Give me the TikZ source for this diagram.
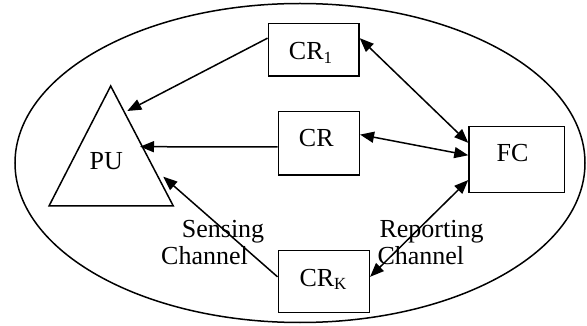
\documentclass[tikz,border=0pt]{standalone}
\usepackage{fontspec}
\setmainfont{Liberation Serif}
\usetikzlibrary{arrows.meta}
\tikzset{
  line/.style={line width=1.5pt, draw=black},
  box/.style={line, rectangle, inner sep=0pt, minimum width=#1},
  lbl/.style={inner sep=0pt, font=\fontsize{26}{28}\selectfont},
  arr/.style={line, -{Triangle[length=14pt,width=11pt]}},
  darr/.style={line, {Triangle[length=14pt,width=11pt]}-{Triangle[length=14pt,width=11pt]}},
}
\newcommand{\subtxt}[1]{\raisebox{-3.5pt}{\fontsize{17}{18}\selectfont #1}}
\begin{document}
\begin{tikzpicture}[x=1pt,y=-1pt]
\useasboundingbox (0,0) rectangle (587,326);
% outer ellipse
\draw[line] (300,163) ellipse [x radius=285, y radius=159.5];
% boxes
\node[box=90.7, minimum height=52.7] (CR1) at (313.65,49.65) {};
\node[box=81, minimum height=63.3] (CR) at (318.8,143.35) {};
\node[box=91, minimum height=62] (CRK) at (323.8,281.7) {};
\node[box=95.3, minimum height=65.6] (FC) at (516.65,159.5) {};
% triangle PU
\coordinate (apex) at (110.7,86);
\coordinate (bl) at (49,206);
\coordinate (br) at (173.3,206);
\draw[line, line join=miter] (apex) -- (bl) -- (br) -- cycle;
% labels
\node[lbl, anchor=base] (CR1t) at (310.5,60) {CR\subtxt{1}};
\node[lbl, anchor=base] (CRt) at (316.3,146.5) {CR};
\node[lbl, anchor=base] (CRKt) at (323,286.5) {CR\subtxt{K}};
\node[lbl, anchor=base] (FCt) at (512.5,161.5) {FC};
\node[lbl, anchor=base] (PUt) at (106.3,170) {PU};
\node[lbl, anchor=base west] (sens1) at (181.7,238) {Sensing};
\node[lbl, anchor=base west] (sens2) at (161,265) {Channel};
\node[lbl, anchor=base west] (rep1) at (379.3,237) {Reporting};
\node[lbl, anchor=base west] (rep2) at (377.3,265) {Channel};
% arrow ends at PU
\coordinate (pu1) at (127.3,111);
\coordinate (pu2) at (140,146.7);
\coordinate (pu3) at (163.3,176.7);
% sensing arrows
\draw[arr] (CR1.166) -- (pu1);
\draw[arr] (CR.185) -- (pu2);
\draw[arr] (CRK.174) -- (pu3);
% reporting arrows
\draw[darr] (CR1.14) -- (FC.161);
\draw[darr] (CR.12) -- (FC.175);
\draw[darr] (CRK.6) -- (FC.203);
\end{tikzpicture}
\end{document}
